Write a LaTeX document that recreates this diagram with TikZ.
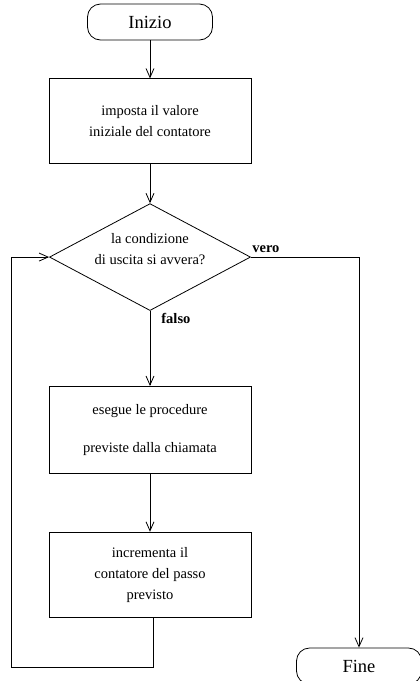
\documentclass[tikz,border=0pt]{standalone}
\usepackage{fontspec}
\setmainfont{Liberation Serif}
\usepackage{tikz}
\usetikzlibrary{positioning,arrows.meta,shapes.geometric}

\begin{document}
\begin{tikzpicture}[
    x=1pt, y=-1pt,
    line width=0.8pt,
    term/.style={
        rectangle, rounded corners=13pt,
        draw, minimum width=125pt, minimum height=36pt,
        font=\fontsize{18.5}{22}\selectfont
    },
    box/.style={
        rectangle, draw, align=center,
        minimum width=202pt, minimum height=85pt,
        font=\fontsize{14.5}{21}\selectfont
    },
    test/.style={
        diamond, aspect=1.88, draw, align=center, inner sep=0pt,
        minimum width=199pt, minimum height=106pt,
        font=\fontsize{14.5}{21}\selectfont
    },
    lbl/.style={font=\fontsize{14.5}{17}\selectfont\bfseries, inner sep=1pt},
    arrow/.style={-{Straight Barb[length=9pt,width=8pt]}}
]
\useasboundingbox (0,0) rectangle (420,681);

\node[term] (start) at (150,22) {Inizio};

\node[box, below=38pt of start] (init) {imposta il valore\\
iniziale del contatore};

\node[test, below=39pt of init] (cond) {la condizione\\
di uscita si avvera?\\[-4pt]};

\node[box, below=75pt of cond, minimum height=87pt] (run) {esegue le procedure\\[17pt]
previste dalla chiamata};

\node[box, below=58pt of run] (step) {incrementa il\\
contatore del passo\\
previsto};

\node[term] (fine) at (359,666) {Fine};

\draw[arrow] (start) -- (init);
\draw[arrow] (init) -- (cond);
\draw[arrow] (cond) -- node[lbl, pos=0.1, right=10pt] {falso} (run);
\draw[arrow] (run) -- (step);
\draw[arrow] (cond.east) -| node[lbl, pos=0, anchor=south west, yshift=3pt] {vero} (fine.north);
\draw[arrow] ([xshift=3pt]step.south) -- ++(0,50) -| ([xshift=-38pt]cond.west) -- (cond.west);

\end{tikzpicture}
\end{document}
